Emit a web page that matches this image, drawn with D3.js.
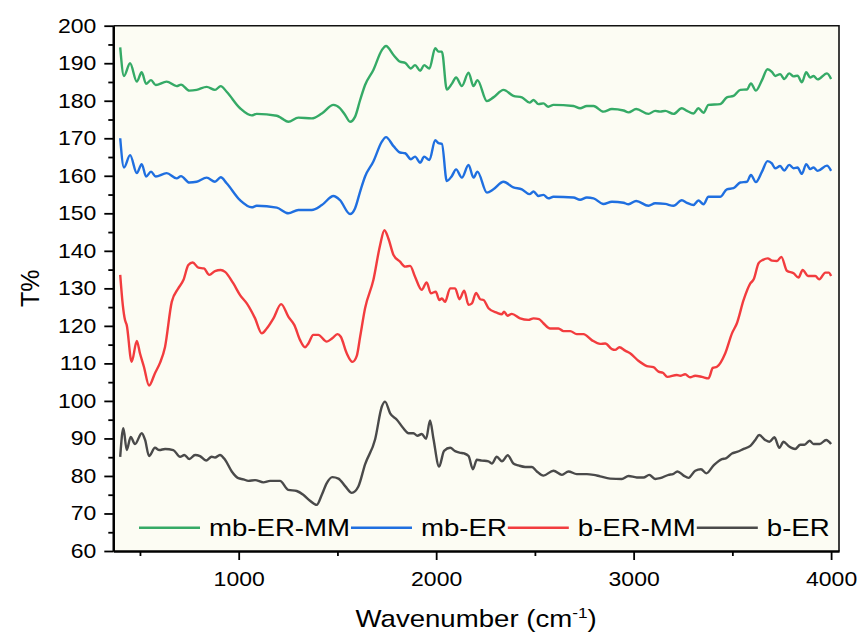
<!DOCTYPE html>
<html>
<head>
<meta charset="utf-8">
<script src="https://cdn.jsdelivr.net/npm/d3@7"></script>
<style>
  body { margin: 0; background: #fff; }
  svg { display: block; font-family: "Liberation Sans", Arial, sans-serif; }
</style>
</head>
<body>
<div id="chart"></div>
<script>
// series: [wavenumber, T%]
var mbErMm = [[400,194.2],[419,186.6],[450,190],[484,185.1],[509,187.6],[531,184.5],[556,185.5],[580,184.2],[635,185.1],[686,183.9],[708,184.3],[750,182.7],[787,182.9],[838,183.7],[880,182.9],[909,183.9],[939,182.4],[1007,178],[1066,176.1],[1091,176.5],[1193,176],[1218,175.3],[1251,174.4],[1302,175.5],[1370,175.3],[1421,176.6],[1480,178.9],[1513,178],[1539,176.2],[1564,174.4],[1589,175.7],[1615,180.2],[1640,184.2],[1682,188.2],[1725,193.5],[1746,194.6],[1784,192.2],[1817,190.4],[1843,190.1],[1872,188.6],[1893,189.5],[1919,188],[1939,189.5],[1966,188.6],[1995,194],[2012,193.1],[2029,193.1],[2054,183],[2079,184.5],[2101,186.2],[2130,183.9],[2164,187.5],[2189,183.9],[2209,185.5],[2257,179.9],[2290,180.9],[2341,182.9],[2391,181.3],[2434,180.9],[2473,179.5],[2493,180.2],[2518,179.1],[2543,179.3],[2568,178.4],[2594,178.9],[2695,178.6],[2729,178],[2763,178.6],[2797,178.6],[2847,177.1],[2890,177.8],[2949,177.4],[2974,176.9],[3013,177.8],[3075,176.5],[3109,177.3],[3134,177.1],[3160,177.3],[3202,176.5],[3244,178],[3270,177.3],[3303,176.6],[3328,178],[3354,176.8],[3379,178.9],[3438,179.1],[3472,180.9],[3506,181.3],[3540,182.9],[3574,183],[3594,184.6],[3619,182.7],[3650,185.5],[3678,188.4],[3700,187.7],[3717,186.6],[3742,187.1],[3763,185.8],[3788,187.3],[3810,186.5],[3830,186.7],[3852,184.9],[3874,187.6],[3894,186.2],[3911,186.6],[3932,185.7],[3979,187.3],[4000,185.8]];

var mbEr = [[400,170],[419,162.2],[450,165.5],[484,160.7],[509,163.1],[531,159.8],[556,161.1],[580,159.8],[635,160.7],[686,159.3],[708,159.9],[750,158.2],[787,158.4],[838,159.5],[880,158.4],[909,159.6],[939,158],[1007,153.5],[1066,151.6],[1091,152],[1193,151.5],[1251,150],[1302,150.9],[1370,150.9],[1421,152.2],[1480,154.6],[1513,153.5],[1564,149.8],[1589,151.3],[1615,155.8],[1640,159.8],[1682,163.8],[1725,169.1],[1746,170.3],[1784,167.9],[1817,166.2],[1843,166],[1872,164.4],[1893,165.1],[1919,163.5],[1939,165.1],[1966,164.2],[1995,169.5],[2012,168.7],[2029,168.5],[2054,158.6],[2079,159.9],[2101,161.7],[2130,159.5],[2164,162.9],[2189,159.5],[2209,161.1],[2257,155.5],[2290,156.4],[2341,158.4],[2391,156.9],[2434,156.4],[2473,155.1],[2493,155.8],[2518,154.6],[2543,154.9],[2568,154],[2594,154.4],[2695,154.2],[2729,153.6],[2763,154.2],[2797,154],[2847,152.5],[2890,153.1],[2949,152.8],[2974,152.4],[3013,153.3],[3075,152],[3109,152.7],[3160,152.5],[3202,152],[3244,153.5],[3270,152.8],[3303,152.2],[3328,153.4],[3354,152.4],[3379,154.4],[3438,154.4],[3472,156.4],[3506,156.7],[3540,158.2],[3574,158.4],[3594,160.2],[3619,158.3],[3650,161.1],[3678,163.9],[3700,163.3],[3717,162],[3742,162.6],[3763,161.4],[3788,162.9],[3810,162],[3830,162.2],[3852,160.5],[3874,163.1],[3894,161.8],[3911,162.2],[3932,161.3],[3979,162.7],[4000,161.3]];

var bErMm = [[400,133.6],[413,125.6],[424,121.6],[433,120.2],[458,110.4],[484,116],[500,112.7],[520,109.1],[546,104.1],[576,107.4],[602,110.2],[627,114.4],[661,126.4],[694,130],[720,132.2],[745,136.2],[767,136.9],[796,135.5],[824,135.3],[851,133.6],[880,134.6],[909,134.9],[931,134.4],[973,131.3],[1007,128.2],[1041,126],[1083,122],[1117,118],[1142,119.3],[1176,122],[1215,125.8],[1252,122.4],[1282,120.2],[1311,116.2],[1336,114.3],[1353,115.3],[1378,117.6],[1403,117.6],[1446,115.8],[1474,116.7],[1500,117.8],[1517,117.1],[1547,112.7],[1576,110.4],[1598,112],[1615,117.1],[1640,124.7],[1682,132.2],[1716,141.5],[1738,145.5],[1758,143.3],[1784,138.9],[1817,137.1],[1843,135.8],[1868,136],[1893,133.1],[1927,129.6],[1952,131.6],[1973,128.7],[1998,129.1],[2016,126.9],[2029,127.3],[2045,126.4],[2071,130],[2096,130],[2118,127.1],[2142,129.4],[2164,125.6],[2181,126],[2202,128.8],[2223,127.1],[2240,126.9],[2265,124.7],[2307,123.5],[2333,123.1],[2344,123.8],[2361,122.7],[2383,123.2],[2425,122],[2467,121.6],[2493,122],[2521,121.8],[2543,120.7],[2577,119.3],[2619,119.3],[2645,118.6],[2679,118.6],[2712,117.8],[2746,117.8],[2788,116.2],[2830,115.2],[2856,115.3],[2890,113.8],[2906,113.6],[2928,114.3],[2957,113.4],[2982,112.7],[3024,110.7],[3067,109.3],[3100,109],[3126,107.8],[3148,107.5],[3171,106.4],[3219,106.9],[3236,106.7],[3261,107.1],[3286,106.3],[3312,106.7],[3346,106.4],[3379,106],[3401,108.8],[3422,109.1],[3464,112.7],[3498,118],[3523,120.7],[3557,126.9],[3591,131.3],[3608,132.4],[3633,136.7],[3655,137.6],[3679,138],[3701,137.4],[3726,137.3],[3748,138.4],[3776,134.7],[3810,134],[3835,132.9],[3856,134.9],[3883,133.3],[3920,133.3],[3940,132.4],[3971,134.2],[3988,134.2],[4000,133.3]];

var bEr = [[400,85.1],[416,92.7],[433,86.9],[453,90.4],[475,88.5],[509,91.4],[526,89.6],[546,85.3],[576,87.5],[598,86.9],[627,87.2],[669,86.9],[703,85.1],[725,85.6],[750,84.5],[779,85.6],[804,85.3],[835,84.1],[863,85.1],[880,84.9],[905,85.6],[931,84.3],[965,81.2],[998,79.4],[1024,79.1],[1049,78.7],[1083,78.9],[1125,78.3],[1159,78.7],[1209,78.7],[1251,76.3],[1294,76],[1327,75],[1361,73.4],[1395,72.3],[1421,75],[1446,78.1],[1474,79.7],[1505,79.3],[1539,77.3],[1573,75.5],[1606,77.2],[1640,83.1],[1691,89.8],[1725,98.5],[1741,99.8],[1767,96.7],[1801,95],[1834,92.7],[1860,91.4],[1885,91.4],[1905,90.7],[1927,91.2],[1949,89.9],[1969,94.8],[1986,90],[2015,82.5],[2040,86.7],[2071,87.5],[2096,86.6],[2118,86.2],[2142,86],[2164,85.3],[2186,81.8],[2206,84.3],[2231,84.1],[2265,83.9],[2282,83.3],[2307,85.1],[2333,83.9],[2363,85.5],[2391,83.3],[2417,82.8],[2451,82.4],[2485,82.4],[2510,81.2],[2543,80.1],[2594,81.4],[2637,80.3],[2670,81.2],[2712,80.5],[2763,80.5],[2797,80.3],[2830,79.9],[2881,79.3],[2940,79.2],[2974,80],[3016,79.6],[3050,79.6],[3079,80.3],[3109,79.2],[3134,79.4],[3177,80.3],[3199,80.5],[3222,81.2],[3253,80.1],[3278,79.5],[3312,81.4],[3341,81.8],[3368,80.7],[3405,82.8],[3447,84.5],[3467,84.7],[3498,86],[3523,86.4],[3557,87.2],[3591,88],[3616,89.6],[3636,90.9],[3666,89.6],[3688,89.1],[3713,90.3],[3738,87.5],[3759,89.1],[3784,88],[3818,87.2],[3844,88.3],[3865,88.3],[3891,89.4],[3911,88.5],[3942,88.5],[3975,89.6],[4000,88.5]];

var seriesNames = ["mb-ER-MM", "mb-ER", "b-ER-MM", "b-ER"];
var seriesColors = ["#35aa66", "#1f6fe0", "#f23c3e", "#4a4a4a"];
var xTicks = [1000, 2000, 3000, 4000];
var xMinorTicks = [500, 1500, 2500, 3500];
var yTicks = d3.range(60, 201, 10);
var yMinorTicks = d3.range(65, 200, 10);

var width = 857, height = 633;
var margin = { top: 25.7, left: 113.3, right: 18, bottom: 82 };
var stretch = 1.15; // text in the picture is a bit wide

var svg = d3.select("#chart").append("svg")
    .attr("width", width)
    .attr("height", height);

var x = d3.scaleLinear()
    .domain([365, 4040])
    .range([margin.left, width - margin.right]);

var y = d3.scaleLinear()
    .domain([60, 200])
    .range([height - margin.bottom, margin.top]);

// plot background
svg.append("rect")
    .attr("x", margin.left)
    .attr("y", margin.top)
    .attr("width", width - margin.right - margin.left)
    .attr("height", height - margin.bottom - margin.top)
    .style("fill", "#fcfcf3");

// lines
var line = d3.line()
    .x(function(d) { return x(d[0]); })
    .y(function(d) { return y(d[1]); })
    .curve(d3.curveMonotoneX);

[mbErMm, mbEr, bErMm, bEr].forEach(function(s, i) {
    svg.append("path")
        .datum(s)
        .attr("d", line)
        .style("fill", "none")
        .style("stroke", seriesColors[i])
        .style("stroke-width", 2.4)
        .style("stroke-linejoin", "round");
});

// top and right frame
svg.append("path")
    .attr("d", "M" + x.range()[0] + "," + y.range()[1] + "H" + x.range()[1] + "V" + y.range()[0])
    .style("fill", "none")
    .style("stroke", "#111")
    .style("stroke-width", 1.6);

// axes
var xAxis = svg.append("g")
    .attr("transform", "translate(0," + y.range()[0] + ")")
    .call(d3.axisBottom(x).tickValues(xTicks).tickFormat(d3.format("d"))
        .tickSize(9).tickPadding(12).tickSizeOuter(0));

svg.append("g")
    .attr("transform", "translate(0," + y.range()[0] + ")")
    .call(d3.axisBottom(x).tickValues(xMinorTicks).tickSize(5).tickFormat("").tickSizeOuter(0));

var yAxis = svg.append("g")
    .attr("transform", "translate(" + x.range()[0] + ",0)")
    .call(d3.axisLeft(y).tickValues(yTicks).tickSize(9).tickSizeOuter(0));

svg.append("g")
    .attr("transform", "translate(" + x.range()[0] + ",0)")
    .call(d3.axisLeft(y).tickValues(yMinorTicks).tickSize(5).tickFormat("").tickSizeOuter(0));

svg.selectAll(".domain").style("stroke", "#000").style("stroke-width", 2.2);
svg.selectAll(".tick line").style("stroke", "#000").style("stroke-width", 1.8);
svg.selectAll(".tick text")
    .style("font-size", "20px")
    .style("fill", "#000")
    .attr("font-family", null);

xAxis.selectAll(".tick text").attr("transform", "scale(" + stretch + ",1)");
yAxis.selectAll(".tick text")
    .attr("x", -17 / stretch)
    .attr("transform", "scale(" + stretch + ",1)");

// axis titles
var cx = (x.range()[0] + x.range()[1]) / 2;
var xTitle = svg.append("text")
    .attr("transform", "translate(" + cx + ",627) scale(" + stretch + ",1)")
    .attr("text-anchor", "middle")
    .style("font-size", "24px");
xTitle.append("tspan").text("Wavenumber (cm");
xTitle.append("tspan").attr("dy", -9).style("font-size", "15px").text("-1");
xTitle.append("tspan").attr("dy", 9).text(")");

svg.append("text")
    .attr("transform", "translate(39," + (y.range()[0] + y.range()[1]) / 2 + ") rotate(-90)")
    .attr("text-anchor", "middle")
    .style("font-size", "25px")
    .text("T%");

// legend along the bottom of the plot
var legend = svg.append("g").attr("transform", "translate(139," + y(66.2) + ")");
var lx = 0;
seriesNames.forEach(function(name, i) {
    legend.append("line")
        .attr("x1", lx).attr("x2", lx + 61)
        .attr("y1", 0).attr("y2", 0)
        .style("stroke", seriesColors[i])
        .style("stroke-width", 2.4);
    var t = legend.append("text")
        .attr("transform", "translate(" + (lx + 70) + ",8.5) scale(" + (stretch + 0.05) + ",1)")
        .style("font-size", "23px")
        .text(name);
    lx += 70 + t.node().getComputedTextLength() * (stretch + 0.05) + 1;
});
</script>
</body>
</html>
